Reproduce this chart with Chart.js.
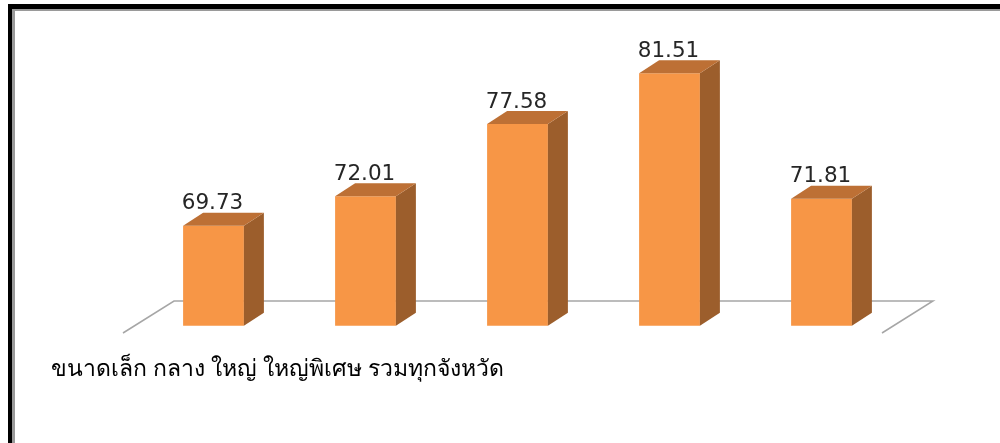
<!DOCTYPE html>
<html>
<head>
<meta charset="utf-8">
<script src="https://cdn.jsdelivr.net/npm/chart.js@4"></script>
<style>
  html, body { margin: 0; padding: 0; background: #fff; }
  #wrap { position: relative; width: 1000px; height: 443px; overflow: hidden; }
  #c { position: absolute; left: 0; top: 0; }
  .frame-top { position: absolute; left: 8px; top: 4px; width: 992px; height: 5px; background: #000; }
  .frame-top2 { position: absolute; left: 12px; top: 9px; width: 988px; height: 2px; background: #9a9a9a; }
  .frame-left { position: absolute; left: 8px; top: 4px; width: 4px; height: 439px; background: #000; }
  .frame-left2 { position: absolute; left: 12px; top: 9px; width: 3px; height: 434px; background: #9a9a9a; }
  #cats { position: absolute; left: 51px; top: 350px; font: 23px "Noto Sans", "Tahoma", sans-serif; color: #000; white-space: nowrap; }
</style>
</head>
<body>
<div id="wrap">
  <canvas id="c" width="1000" height="443"></canvas>
  <div class="frame-top"></div>
  <div class="frame-top2"></div>
  <div class="frame-left"></div>
  <div class="frame-left2"></div>
  <div id="cats"></div>
</div>
<script>
const categories = ["ขนาดเล็ก", "กลาง", "ใหญ่", "ใหญ่พิเศษ", "รวมทุกจังหวัด"];
const values = [69.73, 72.01, 77.58, 81.51, 71.81];

document.getElementById("cats").textContent = categories.join(" ");

// fake 3D: side + top faces, floor outline, value labels
const DX = 20, DY = -13;
const bars3d = {
  id: "bars3d",
  beforeDatasetsDraw(chart) {
    const { ctx, chartArea: a } = chart;
    const backY = a.bottom - 24.7;
    const frontY = a.bottom + 7.3;
    const k = 51 / 32;
    const xl = a.left + 36.5, xr = a.right + 35.5;
    ctx.save();
    ctx.strokeStyle = "#a6a6a6";
    ctx.lineWidth = 1.5;
    ctx.beginPath();
    ctx.moveTo(xl - (frontY - backY) * k, frontY);
    ctx.lineTo(xl, backY);
    ctx.lineTo(xr, backY);
    ctx.lineTo(xr - (frontY - backY) * k, frontY);
    ctx.stroke();
    ctx.restore();
  },
  afterDatasetsDraw(chart) {
    const { ctx } = chart;
    const meta = chart.getDatasetMeta(0);
    const b = chart.scales.y.bottom;
    ctx.save();
    meta.data.forEach((bar, i) => {
      const w = bar.width;
      const l = bar.x - w / 2, r = bar.x + w / 2;
      const t = bar.y;
      ctx.fillStyle = "#9c5e2c";
      ctx.beginPath();
      ctx.moveTo(r, t);
      ctx.lineTo(r + DX, t + DY);
      ctx.lineTo(r + DX, b + DY);
      ctx.lineTo(r, b);
      ctx.closePath();
      ctx.fill();
      ctx.fillStyle = "#bd7035";
      ctx.beginPath();
      ctx.moveTo(l, t);
      ctx.lineTo(l + DX, t + DY);
      ctx.lineTo(r + DX, t + DY);
      ctx.lineTo(r, t);
      ctx.closePath();
      ctx.fill();
      ctx.fillStyle = "#262626";
      ctx.font = '21.5px "DejaVu Sans"';
      ctx.textAlign = "center";
      ctx.textBaseline = "alphabetic";
      ctx.fillText(values[i].toFixed(2), bar.x - 1, t - 16.5);
    });
    ctx.restore();
  }
};

new Chart(document.getElementById("c"), {
  type: "bar",
  data: {
    labels: categories,
    datasets: [{
      data: values,
      backgroundColor: "#f79646",
      borderWidth: 0,
      barPercentage: 0.8,
      categoryPercentage: 0.5,
    }],
  },
  options: {
    responsive: false,
    animation: false,
    layout: { padding: { left: 137.5, right: 102.5, top: 10, bottom: 117.3 } },
    plugins: { legend: { display: false }, tooltip: { enabled: false } },
    scales: {
      x: { display: false },
      y: { display: false, min: 62, max: 86.4 },
    },
  },
  plugins: [bars3d],
});
</script>
</body>
</html>
